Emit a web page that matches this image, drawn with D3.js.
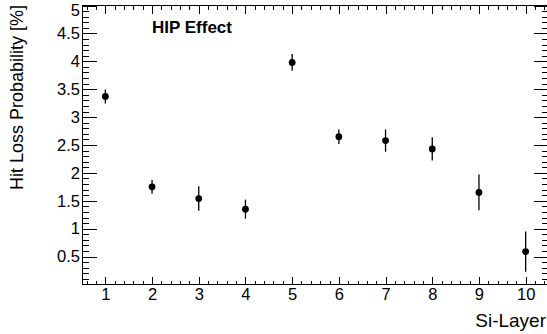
<!DOCTYPE html>
<html>
<head>
<meta charset="utf-8">
<script src="https://cdn.jsdelivr.net/npm/d3@7"></script>
<style>
  body { margin: 0; background: #fff; }
  svg { display: block; font-family: "Liberation Sans", Arial, sans-serif; }
  .axis path { display: none; }
  .axis line { stroke: #000; stroke-width: 1; shape-rendering: crispEdges; }
  .axis text { fill: #000; font-size: 16.5px; }
</style>
</head>
<body>
<script>
// Hit loss probability per silicon layer
var layers = [1, 2, 3, 4, 5, 6, 7, 8, 9, 10];
var lossProb = [3.37, 1.75, 1.54, 1.35, 3.98, 2.65, 2.58, 2.43, 1.65, 0.59];
var lossErr = [0.125, 0.125, 0.22, 0.17, 0.15, 0.13, 0.2, 0.21, 0.32, 0.36];
var xTicks = [1, 2, 3, 4, 5, 6, 7, 8, 9, 10];
var yTicks = [0.5, 1, 1.5, 2, 2.5, 3, 3.5, 4, 4.5, 5];

var width = 547, height = 334;
var padL = 82, padR = 549, padT = 5.5, padB = 284.5;

var svg = d3.select("body").append("svg")
    .attr("width", width)
    .attr("height", height);

// set the ranges
var x = d3.scaleLinear().domain([0.5, 10.5]).range([padL, padR]);
var y = d3.scaleLinear().domain([0, 5]).range([padB, padT]);

var fmt = d3.format("~g");
var xMinor = d3.range(0.6, 10.5, 0.2).filter(function(v) { return Math.abs(v - Math.round(v)) > 0.01; });
var yMinor = d3.range(0.1, 5, 0.1).filter(function(v) { return Math.abs(v * 2 - Math.round(v * 2)) > 0.01; });

// bottom axis
svg.append("g").attr("class", "axis")
    .attr("transform", "translate(0," + padB + ")")
    .call(d3.axisBottom(x).tickValues(xTicks).tickSize(-8).tickPadding(4).tickFormat(fmt));
svg.append("g").attr("class", "axis")
    .attr("transform", "translate(0," + padB + ")")
    .call(d3.axisBottom(x).tickValues(xMinor).tickSize(-4).tickFormat(""));

// top axis (ticks only)
svg.append("g").attr("class", "axis")
    .attr("transform", "translate(0," + padT + ")")
    .call(d3.axisTop(x).tickValues(xTicks).tickSize(-8).tickFormat(""));
svg.append("g").attr("class", "axis")
    .attr("transform", "translate(0," + padT + ")")
    .call(d3.axisTop(x).tickValues(xMinor).tickSize(-4).tickFormat(""));

// left axis
var yAxisG = svg.append("g").attr("class", "axis")
    .attr("transform", "translate(" + padL + ",0)")
    .call(d3.axisLeft(y).tickValues(yTicks).tickSize(-15).tickPadding(2).tickFormat(fmt));
// keep the top label inside the picture
yAxisG.selectAll(".tick text").filter(function(d) { return d === 5; })
    .attr("dy", "0.6em");
svg.append("g").attr("class", "axis")
    .attr("transform", "translate(" + padL + ",0)")
    .call(d3.axisLeft(y).tickValues(yMinor).tickSize(-7).tickFormat(""));

// right axis (ticks only)
svg.append("g").attr("class", "axis")
    .attr("transform", "translate(" + padR + ",0)")
    .call(d3.axisRight(y).tickValues(yTicks).tickSize(-15).tickFormat(""));
svg.append("g").attr("class", "axis")
    .attr("transform", "translate(" + padR + ",0)")
    .call(d3.axisRight(y).tickValues(yMinor).tickSize(-7).tickFormat(""));

// frame
svg.append("rect")
    .attr("x", padL).attr("y", padT)
    .attr("width", padR - padL).attr("height", padB - padT)
    .attr("fill", "none").attr("stroke", "#000").attr("stroke-width", 1)
    .attr("shape-rendering", "crispEdges");

// error bars
svg.selectAll(".err")
    .data(layers)
    .enter().append("line")
    .attr("class", "err")
    .attr("x1", function(d) { return x(d); })
    .attr("x2", function(d) { return x(d); })
    .attr("y1", function(d, i) { return y(lossProb[i] - lossErr[i]); })
    .attr("y2", function(d, i) { return y(lossProb[i] + lossErr[i]); })
    .attr("stroke", "#000")
    .attr("stroke-width", 1.3);

// markers
svg.selectAll(".pt")
    .data(layers)
    .enter().append("circle")
    .attr("class", "pt")
    .attr("cx", function(d) { return x(d); })
    .attr("cy", function(d, i) { return y(lossProb[i]); })
    .attr("r", 3.4)
    .attr("fill", "#000");

// labels
svg.append("text")
    .attr("x", 152).attr("y", 33)
    .style("font-size", "17px").style("font-weight", "bold")
    .text("HIP Effect");

svg.append("text")
    .attr("x", 546).attr("y", 327)
    .attr("text-anchor", "end")
    .style("font-size", "19px")
    .text("Si-Layer");

svg.append("text")
    .attr("transform", "translate(23,5) rotate(-90)")
    .attr("text-anchor", "end")
    .style("font-size", "18px")
    .text("Hit Loss Probability [%]");
</script>
</body>
</html>
